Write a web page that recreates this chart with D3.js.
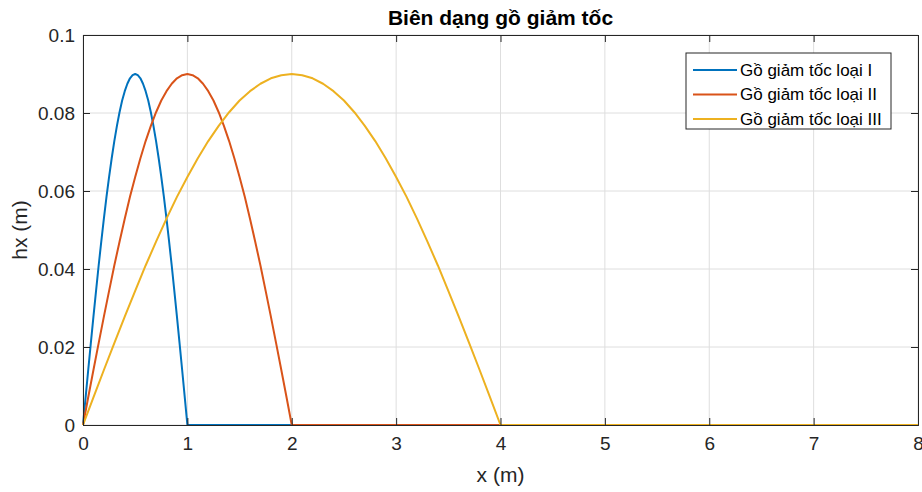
<!DOCTYPE html>
<html>
<head>
    <meta charset="utf-8">
    <title>Biên dạng gồ giảm tốc</title>
    <script src="https://d3js.org/d3.v7.min.js"></script>
    <style>
        body { margin: 0; background: #fff; }
        svg { font-family: "Liberation Sans", Arial, sans-serif; }
        .grid line { stroke: #dedede; stroke-width: 1; }
        .axis path, .axis line { stroke: #262626; }
        .axis text { fill: #262626; font-size: 19px; }
        .line { fill: none; stroke-width: 2px; stroke-linejoin: round; }
    </style>
</head>
<body>
    <div id="chart"></div>
    <script>
        // hx (m): each bump rises 0 -> 0.09 -> 0 then stays at 0 up to x = 8
        const hI = [0, 0.0071, 0.0141, 0.0210, 0.0278, 0.0344, 0.0409, 0.0470, 0.0529, 0.0585, 0.0636,
            0.0684, 0.0728, 0.0767, 0.0802, 0.0832, 0.0856, 0.0875, 0.0889, 0.0897, 0.0900,
            0.0897, 0.0889, 0.0875, 0.0856, 0.0832, 0.0802, 0.0767, 0.0728, 0.0684, 0.0636,
            0.0585, 0.0529, 0.0470, 0.0409, 0.0344, 0.0278, 0.0210, 0.0141, 0.0071, 0, 0];
        const xI = [0, 0.025, 0.05, 0.075, 0.1, 0.125, 0.15, 0.175, 0.2, 0.225, 0.25,
            0.275, 0.3, 0.325, 0.35, 0.375, 0.4, 0.425, 0.45, 0.475, 0.5,
            0.525, 0.55, 0.575, 0.6, 0.625, 0.65, 0.675, 0.7, 0.725, 0.75,
            0.775, 0.8, 0.825, 0.85, 0.875, 0.9, 0.925, 0.95, 0.975, 1, 8];

        const hII = [0, 0.0071, 0.0141, 0.0210, 0.0278, 0.0344, 0.0409, 0.0470, 0.0529, 0.0585, 0.0636,
            0.0684, 0.0728, 0.0767, 0.0802, 0.0832, 0.0856, 0.0875, 0.0889, 0.0897, 0.0900,
            0.0897, 0.0889, 0.0875, 0.0856, 0.0832, 0.0802, 0.0767, 0.0728, 0.0684, 0.0636,
            0.0585, 0.0529, 0.0470, 0.0409, 0.0344, 0.0278, 0.0210, 0.0141, 0.0071, 0, 0];
        const xII = [0, 0.05, 0.1, 0.15, 0.2, 0.25, 0.3, 0.35, 0.4, 0.45, 0.5,
            0.55, 0.6, 0.65, 0.7, 0.75, 0.8, 0.85, 0.9, 0.95, 1,
            1.05, 1.1, 1.15, 1.2, 1.25, 1.3, 1.35, 1.4, 1.45, 1.5,
            1.55, 1.6, 1.65, 1.7, 1.75, 1.8, 1.85, 1.9, 1.95, 2, 8];

        const hIII = [0, 0.0071, 0.0141, 0.0210, 0.0278, 0.0344, 0.0409, 0.0470, 0.0529, 0.0585, 0.0636,
            0.0684, 0.0728, 0.0767, 0.0802, 0.0832, 0.0856, 0.0875, 0.0889, 0.0897, 0.0900,
            0.0897, 0.0889, 0.0875, 0.0856, 0.0832, 0.0802, 0.0767, 0.0728, 0.0684, 0.0636,
            0.0585, 0.0529, 0.0470, 0.0409, 0.0344, 0.0278, 0.0210, 0.0141, 0.0071, 0, 0];
        const xIII = [0, 0.1, 0.2, 0.3, 0.4, 0.5, 0.6, 0.7, 0.8, 0.9, 1,
            1.1, 1.2, 1.3, 1.4, 1.5, 1.6, 1.7, 1.8, 1.9, 2,
            2.1, 2.2, 2.3, 2.4, 2.5, 2.6, 2.7, 2.8, 2.9, 3,
            3.1, 3.2, 3.3, 3.4, 3.5, 3.6, 3.7, 3.8, 3.9, 4, 8];

        const seriesNames = ["Gồ giảm tốc loại I", "Gồ giảm tốc loại II", "Gồ giảm tốc loại III"];
        const colors = ["#0072BD", "#D95319", "#EDB120"];
        const xTicks = [0, 1, 2, 3, 4, 5, 6, 7, 8];
        const yTicks = [0, 0.02, 0.04, 0.06, 0.08, 0.1];

        const series = [
            xI.map((x, i) => ({ x: x, y: hI[i] })),
            xII.map((x, i) => ({ x: x, y: hII[i] })),
            xIII.map((x, i) => ({ x: x, y: hIII[i] }))
        ];

        const W = 922, H = 492;
        const margin = { top: 35, right: 4, bottom: 67, left: 83 },
            width = W - margin.left - margin.right,
            height = H - margin.top - margin.bottom;

        const x = d3.scaleLinear().domain([0, 8]).range([0, width]);
        const y = d3.scaleLinear().domain([0, 0.1]).range([height, 0]);

        const svg = d3.select("#chart").append("svg")
            .attr("width", W)
            .attr("height", H);

        const g = svg.append("g")
            .attr("transform", `translate(${margin.left},${margin.top})`);

        // grid
        g.append("g").attr("class", "grid")
            .selectAll("line").data(xTicks).enter().append("line")
            .attr("x1", d => x(d)).attr("x2", d => x(d))
            .attr("y1", 0).attr("y2", height);
        g.append("g").attr("class", "grid")
            .selectAll("line").data(yTicks).enter().append("line")
            .attr("x1", 0).attr("x2", width)
            .attr("y1", d => y(d)).attr("y2", d => y(d));

        // lines
        const line = d3.line().x(d => x(d.x)).y(d => y(d.y));
        series.forEach(function(s, i) {
            g.append("path")
                .datum(s)
                .attr("class", "line")
                .style("stroke", colors[i])
                .attr("d", line);
        });

        // axes (ticks inward, boxed like MATLAB)
        g.append("g").attr("class", "axis")
            .attr("transform", `translate(0,${height})`)
            .call(d3.axisBottom(x).tickValues(xTicks).tickSize(-7).tickPadding(12).tickFormat(d3.format("d")));
        g.append("g").attr("class", "axis")
            .call(d3.axisTop(x).tickValues(xTicks).tickSize(-7).tickFormat(""));
        g.append("g").attr("class", "axis")
            .call(d3.axisLeft(y).tickValues(yTicks).tickSize(-7).tickPadding(8).tickFormat(d => d === 0 ? "0" : String(+d.toFixed(2))));
        g.append("g").attr("class", "axis")
            .attr("transform", `translate(${width},0)`)
            .call(d3.axisRight(y).tickValues(yTicks).tickSize(-7).tickFormat(""));

        // title & labels
        svg.append("text")
            .attr("x", margin.left + width / 2)
            .attr("y", 25)
            .attr("text-anchor", "middle")
            .style("font-size", "21px")
            .style("font-weight", "bold")
            .style("fill", "#000")
            .text("Biên dạng gồ giảm tốc");

        svg.append("text")
            .attr("x", margin.left + width / 2)
            .attr("y", 482)
            .attr("text-anchor", "middle")
            .style("font-size", "21px")
            .style("fill", "#262626")
            .text("x (m)");

        svg.append("text")
            .attr("transform", `translate(27,${margin.top + height / 2}) rotate(-90)`)
            .attr("text-anchor", "middle")
            .style("font-size", "21px")
            .style("fill", "#262626")
            .text("hx (m)");

        // legend
        const lg = svg.append("g").attr("transform", "translate(686,53)");
        lg.append("rect")
            .attr("width", 205).attr("height", 76)
            .attr("fill", "#fff").attr("stroke", "#262626").attr("stroke-width", 1);
        const item = lg.selectAll(".legend").data(seriesNames).enter().append("g")
            .attr("class", "legend")
            .attr("transform", (d, i) => `translate(0,${17 + i * 24.5})`);
        item.append("line")
            .attr("x1", 7).attr("x2", 51)
            .attr("stroke", (d, i) => colors[i]).attr("stroke-width", 2);
        item.append("text")
            .attr("x", 54).attr("dy", "0.35em")
            .style("font-size", "17px").style("fill", "#000")
            .text(d => d);
    </script>
</body>
</html>
